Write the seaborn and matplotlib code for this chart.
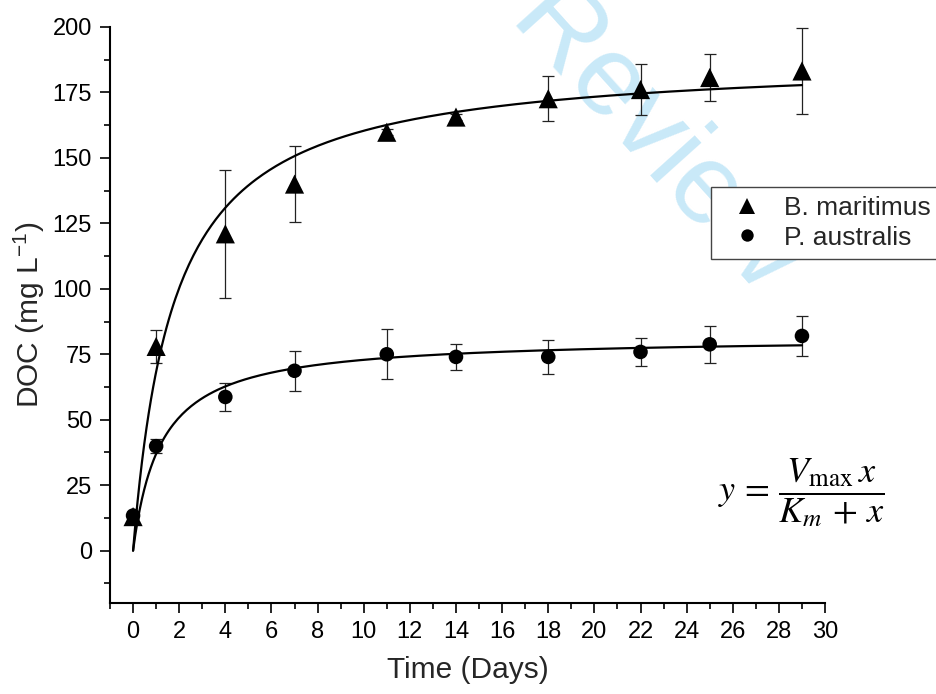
import numpy as np
import pandas as pd
import matplotlib
matplotlib.use("Agg")
import matplotlib.pyplot as plt
import seaborn as sns

# Sampling days
days = [0, 1, 4, 7, 11, 14, 18, 22, 25, 29]

# DOC (mg L-1) and standard deviations
bm_doc = [13.0, 78.0, 121.0, 140.0, 159.8, 165.6, 172.6, 176.1, 180.7, 183.2]
bm_err = [1.0, 6.3, 24.5, 14.6, 1.2, 1.2, 8.5, 9.8, 9.1, 16.3]
pa_doc = [13.4, 39.9, 58.7, 68.7, 75.0, 74.0, 74.0, 75.9, 78.8, 82.0]
pa_err = [1.0, 2.7, 5.2, 7.7, 9.5, 5.1, 6.4, 5.2, 7.0, 7.6]

# Michaelis-Menten fit parameters (Vmax, Km)
bm_fit = (188.6, 1.76)
pa_fit = (81.7, 1.21)

series_names = ["B. maritimus", "P. australis"]
x_ticks = list(range(0, 31, 2))
y_ticks = list(range(0, 201, 25))

sns.set_theme(style="ticks")
plt.rcParams["font.family"] = ["Liberation Sans", "DejaVu Sans"]
plt.rcParams["mathtext.fontset"] = "stix"

fig = plt.figure(figsize=(9.37, 6.94), dpi=100)
fig.patch.set_facecolor("white")

# background watermark
fig.text(0.810, 0.5735, "For Peer Review", fontsize=82, color="#c9e9f8",
         rotation=-48, rotation_mode="anchor", ha="right", va="baseline",
         zorder=0)

ax = fig.add_axes([0.1174, 0.1311, 0.7631, 0.830])
ax.set_facecolor("none")
ax.set_zorder(1)

# fitted curves
xf = np.linspace(0, max(days), 300)
fit_df = pd.DataFrame({
    "x": np.concatenate([xf, xf]),
    "y": np.concatenate([bm_fit[0] * xf / (bm_fit[1] + xf),
                         pa_fit[0] * xf / (pa_fit[1] + xf)]),
    "s": [series_names[0]] * len(xf) + [series_names[1]] * len(xf),
})
sns.lineplot(data=fit_df, x="x", y="y", units="s", estimator=None,
             color="black", lw=1.6, ax=ax, legend=False, zorder=3)

# error bars
ax.errorbar(days, bm_doc, yerr=bm_err, fmt="none", ecolor="#222222",
            elinewidth=0.9, capsize=4, capthick=0.9, zorder=2)
ax.errorbar(days, pa_doc, yerr=pa_err, fmt="none", ecolor="#222222",
            elinewidth=0.9, capsize=4, capthick=0.9, zorder=2)

# data points
pts = pd.DataFrame({
    "day": days + days,
    "doc": bm_doc + pa_doc,
    "species": [series_names[0]] * len(days) + [series_names[1]] * len(days),
})
sns.scatterplot(data=pts, x="day", y="doc", hue="species", style="species",
                size="species",
                sizes={series_names[0]: 190, series_names[1]: 110},
                markers={series_names[0]: "^", series_names[1]: "o"},
                palette={series_names[0]: "black", series_names[1]: "black"},
                edgecolor="none", linewidth=0, ax=ax, zorder=4)

ax.set_xlim(-1, 30)
ax.set_ylim(-20, 200)
ax.set_xticks(x_ticks)
ax.set_xticks(np.arange(-1, 30.5, 1), minor=True)
ax.set_yticks(y_ticks)
ax.set_yticks(np.arange(-12.5, 200, 12.5), minor=True)
ax.tick_params(axis="both", which="major", direction="out", length=7,
               width=1.2, labelsize=17, color="black", labelcolor="black", pad=6)
ax.tick_params(axis="both", which="minor", direction="out", length=4,
               width=1.2, color="black")
for side in ["top", "right"]:
    ax.spines[side].set_visible(False)
for side in ["left", "bottom"]:
    ax.spines[side].set_linewidth(1.5)
    ax.spines[side].set_color("black")

ax.set_xlabel("Time (Days)", fontsize=21.5, labelpad=9)
ax.set_ylabel(r"DOC (mg L$^{\mathregular{-1}}$)", fontsize=21.5, labelpad=4)

# legend with markers only
handles, labels = ax.get_legend_handles_labels()
leg = ax.legend(handles, labels, loc="upper left",
                bbox_to_anchor=(0.7588, 0.7305), bbox_transform=fig.transFigure,
                fontsize=19, frameon=True, fancybox=False, framealpha=1,
                edgecolor="#444444", handletextpad=0.4, borderpad=0.35,
                labelspacing=0.2, markerscale=0.85, borderaxespad=0)
leg.get_frame().set_linewidth(1.0)

# model equation
ax.text(0.855, 0.29, r"$y\,=\,\dfrac{V_{\mathrm{max}}\,x}{K_m\,+\,x}$",
        transform=fig.transFigure, fontsize=26, ha="center", va="center",
        color="black")

fig.savefig("out.png", dpi=100, facecolor="white")
